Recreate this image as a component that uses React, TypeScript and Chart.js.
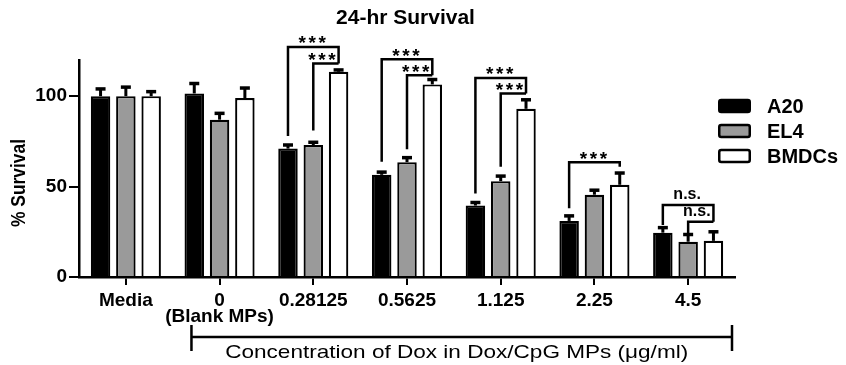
import React, { useEffect, useRef } from 'react';
import { Chart, registerables } from 'chart.js';

Chart.register(...registerables);

// ---- data ----
const categories: (string | string[])[] = ['Media', ['0', '(Blank MPs)'], '0.28125', '0.5625', '1.125', '2.25', '4.5'];
const seriesNames = ['A20', 'EL4', 'BMDCs'];
const a20 = [100, 101.5, 71, 56.5, 39.5, 31, 24.5];
const a20Err = [4, 5.5, 2, 1.5, 1.7, 2.8, 2.8];
const el4 = [100, 87, 73, 63.5, 53, 45.5, 19.5];
const el4Err = [5, 3.5, 1.5, 2.5, 2.8, 2.5, 4];
const bmdc = [100, 99, 113.5, 106.5, 93, 51, 20];
const bmdcErr = [2.5, 5.5, 1, 2.7, 5, 6.5, 5];
const yTicks = [0, 50, 100];
const yMax = 120;

// significance brackets (category index, from series, to series, values)
const sigCat = [2, 2, 3, 3, 4, 4, 5, 6, 6];
const sigFrom = [0, 1, 0, 1, 0, 1, 0, 0, 1];
const sigTo = [2, 2, 2, 2, 2, 2, 2, 2, 2];
const sigTop = [127.2, 118, 120.4, 111.6, 110.1, 101.5, 63.4, 39.8, 30.5];
const sigLeftEnd = [78, 81, 63.7, 70.6, 46.2, 60.9, 38, 28.7, 23.2];
const sigRightEnd = [118, 118, 111.6, 111.6, 101.5, 101.5, 61, 30.5, 30.5];
const sigLabel = ['***', '***', '***', '***', '***', '***', '***', 'n.s.', 'n.s.'];

const titleText = '24-hr Survival';
const yTitleText = '% Survival';
const xGroupText = 'Concentration of Dox in Dox/CpG MPs (\u03bcg/ml)';

const FONT = "'Liberation Sans', Arial, Helvetica, sans-serif";
const fills = ['#000000', '#9a9a9a', '#ffffff'];

export default function App() {
  const ref = useRef<HTMLCanvasElement>(null);

  useEffect(() => {
    const values = [a20, el4, bmdc];
    const errs = [a20Err, el4Err, bmdcErr];

    const overlay = {
      id: 'overlay',
      afterDatasetsDraw(chart: any) {
        const ctx = chart.ctx;
        const yS = chart.scales.y;
        ctx.save();
        ctx.strokeStyle = '#000';
        values.forEach((vals, di) => {
          const meta = chart.getDatasetMeta(di);
          meta.data.forEach((el: any, i: number) => {
            const yBar = yS.getPixelForValue(vals[i]);
            const yTop = yS.getPixelForValue(vals[i] + errs[di][i]);
            ctx.lineWidth = 3;
            ctx.beginPath();
            ctx.moveTo(el.x, yBar);
            ctx.lineTo(el.x, yTop);
            ctx.stroke();
            ctx.lineWidth = 3.5;
            ctx.beginPath();
            ctx.moveTo(el.x - 5, yTop);
            ctx.lineTo(el.x + 5, yTop);
            ctx.stroke();
          });
        });
        ctx.restore();
      },
      afterDraw(chart: any) {
        const ctx = chart.ctx;
        const yS = chart.scales.y;
        const xS = chart.scales.x;
        const area = chart.chartArea;
        ctx.save();
        ctx.strokeStyle = '#000';
        ctx.fillStyle = '#000';

        // significance brackets
        sigCat.forEach((c, k) => {
          const xl = chart.getDatasetMeta(sigFrom[k]).data[c].x;
          const xr = chart.getDatasetMeta(sigTo[k]).data[c].x;
          const yt = yS.getPixelForValue(sigTop[k]);
          const yl = yS.getPixelForValue(sigLeftEnd[k]);
          const yr = yS.getPixelForValue(sigRightEnd[k]);
          ctx.lineWidth = 2.5;
          ctx.lineJoin = 'miter';
          ctx.beginPath();
          ctx.moveTo(xl, yl);
          ctx.lineTo(xl, yt);
          ctx.lineTo(xr, yt);
          ctx.lineTo(xr, yr);
          ctx.stroke();
          const inner = sigFrom[k] === 1;
          const mid = (xl + xr) / 2 + (inner ? -4 : -1);
          if (sigLabel[k] === '***') {
            ctx.font = `bold 19px ${FONT}`;
            ctx.textAlign = 'center';
            ctx.textBaseline = 'alphabetic';
            const m = ctx.measureText('*');
            const cy = yt - 7;
            const base = cy + (m.actualBoundingBoxAscent - m.actualBoundingBoxDescent) / 2;
            [-10, 0, 10].forEach((dx) => ctx.fillText('*', mid + dx, base));
          } else {
            ctx.font = `bold 16px ${FONT}`;
            ctx.textAlign = 'center';
            ctx.textBaseline = 'alphabetic';
            const m = ctx.measureText(sigLabel[k]);
            const cy = yt - 10.5;
            const base = cy + (m.actualBoundingBoxAscent - m.actualBoundingBoxDescent) / 2;
            ctx.fillText(sigLabel[k], mid, base);
          }
        });

        // title
        ctx.font = `bold 21px ${FONT}`;
        ctx.textAlign = 'center';
        ctx.textBaseline = 'middle';
        ctx.fillText(titleText, 405.5, 18);

        // y title (slightly condensed)
        ctx.save();
        ctx.translate(19, 183);
        ctx.rotate(-Math.PI / 2);
        ctx.font = `bold 21px ${FONT}`;
        ctx.textAlign = 'center';
        ctx.textBaseline = 'middle';
        const yw = ctx.measureText(yTitleText).width;
        ctx.scale(88 / yw, 1);
        ctx.fillText(yTitleText, 0, 0);
        ctx.restore();

        // legend
        const legX = 718;
        const legY = [106, 131, 156];
        seriesNames.forEach((name, i) => {
          ctx.beginPath();
          ctx.lineWidth = 2.5;
          if ((ctx as any).roundRect) {
            (ctx as any).roundRect(legX + 1.25, legY[i] - 6, 30.5, 12, 2);
          } else {
            ctx.rect(legX + 1.25, legY[i] - 6, 30.5, 12);
          }
          ctx.fillStyle = fills[i];
          ctx.fill();
          ctx.stroke();
          ctx.fillStyle = '#000';
          ctx.font = `bold 20px ${FONT}`;
          ctx.textAlign = 'left';
          ctx.textBaseline = 'middle';
          ctx.fillText(name, 767, legY[i] + 1);
        });

        // grouping bracket under x axis
        const c0 = xS.getPixelForValue(0);
        const c1 = xS.getPixelForValue(1);
        const bl = c1 - 0.3 * (c1 - c0);
        const br = area.right - 3;
        const by = 337;
        ctx.lineWidth = 2.5;
        ctx.beginPath();
        ctx.moveTo(bl, by);
        ctx.lineTo(br, by);
        ctx.moveTo(bl, by - 12);
        ctx.lineTo(bl, by + 14);
        ctx.moveTo(br, by - 12);
        ctx.lineTo(br, by + 14);
        ctx.stroke();

        ctx.font = `18.5px ${FONT}`;
        ctx.textAlign = 'center';
        ctx.textBaseline = 'middle';
        const w = ctx.measureText(xGroupText).width;
        const sx = 463 / w;
        ctx.save();
        ctx.translate(456.7, 353);
        ctx.scale(sx, 1);
        ctx.fillText(xGroupText, 0, 0);
        ctx.restore();

        ctx.restore();
      },
    };

    const chart = new Chart(ref.current as HTMLCanvasElement, {
      type: 'bar',
      data: {
        labels: categories as any,
        datasets: values.map((vals, i) => ({
          label: seriesNames[i],
          data: vals,
          backgroundColor: fills[i],
          borderColor: '#000',
          borderWidth: 2.2,
          borderSkipped: 'start',
          categoryPercentage: 0.81,
          barPercentage: 0.77,
        })),
      },
      options: {
        responsive: false,
        animation: false,
        layout: { padding: { top: 60, right: 111, bottom: 0, left: 0 } },
        plugins: {
          legend: { display: false },
          title: { display: false },
          tooltip: { enabled: false },
        },
        scales: {
          x: {
            grid: {
              display: true,
              drawOnChartArea: false,
              drawTicks: true,
              tickLength: 8,
              offset: false,
              color: '#000',
              lineWidth: 2,
            },
            border: { display: true, color: '#000', width: 2.5 },
            ticks: {
              color: '#000',
              padding: 8,
              maxRotation: 0,
              autoSkip: false,
              font: { family: FONT, size: 19, weight: 'bold', lineHeight: 0.84 },
            },
            afterFit(s: any) {
              s.height = 88;
            },
          },
          y: {
            min: 0,
            max: yMax,
            afterBuildTicks(s: any) {
              s.ticks = yTicks.map((v) => ({ value: v }));
            },
            grid: {
              display: true,
              drawOnChartArea: false,
              drawTicks: true,
              tickLength: 10,
              color: '#000',
              lineWidth: 2,
            },
            border: { display: true, color: '#000', width: 2.5 },
            ticks: {
              color: '#000',
              padding: 2,
              font: { family: FONT, size: 19, weight: 'bold' },
            },
            afterFit(s: any) {
              s.width = 79;
            },
          },
        },
      } as any,
      plugins: [overlay],
    });
    return () => chart.destroy();
  }, []);

  return (
    <div style={{ position: 'fixed', left: 0, top: 0, width: 846, height: 365, background: '#fff' }}>
      <canvas ref={ref} width={846} height={365} style={{ display: 'block' }} />
    </div>
  );
}
